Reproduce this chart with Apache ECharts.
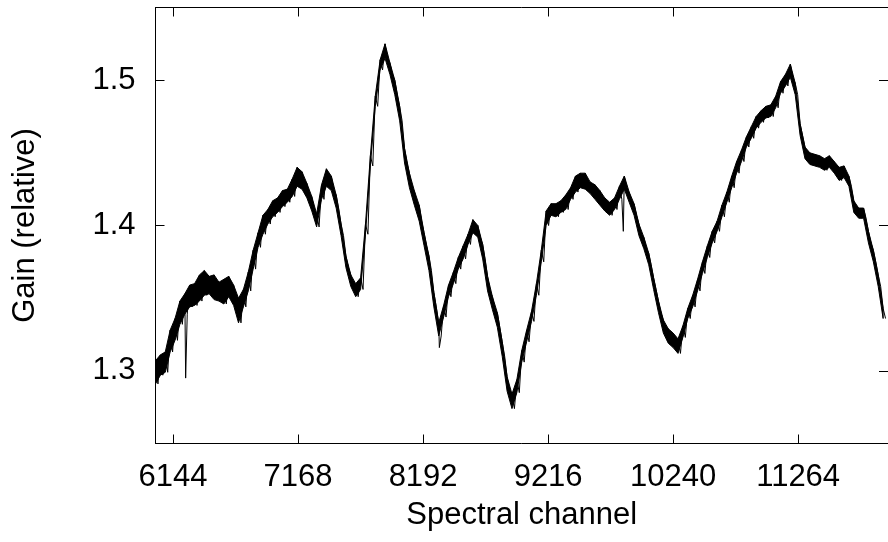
<!DOCTYPE html>
<html>
<head>
<meta charset="utf-8">
<script src="https://cdn.jsdelivr.net/npm/echarts@6/dist/echarts.min.js"></script>
<style>
html,body{margin:0;padding:0;background:#fff;}
#chart{width:888px;height:542px;}
</style>
</head>
<body>
<div id="chart"></div>
<script>
// Channel sampling grid (every 40 channels from 6000).
const channelStart = 6000;
const channelStep = 40;
// Upper edge of the noisy trace at each sampled channel
const upper = [
1.307,1.311,1.313,1.328,1.336,1.348,1.353,1.359,1.360,1.366,
1.369,1.365,1.366,1.361,1.363,1.365,1.359,1.350,1.356,1.368,
1.383,1.395,1.407,1.411,1.417,1.419,1.424,1.425,1.432,1.440,
1.437,1.429,1.420,1.408,1.428,1.439,1.434,1.421,1.401,1.379,
1.366,1.360,1.364,1.401,1.448,1.489,1.514,1.525,1.512,1.500,
1.482,1.453,1.436,1.424,1.414,1.395,1.379,1.354,1.333,1.345,
1.359,1.368,1.378,1.386,1.394,1.404,1.400,1.387,1.365,1.351,
1.340,1.320,1.296,1.284,1.294,1.314,1.328,1.341,1.360,1.383,
1.410,1.415,1.415,1.417,1.421,1.426,1.434,1.436,1.436,1.430,
1.428,1.424,1.419,1.416,1.419,1.427,1.434,1.423,1.415,1.401,
1.392,1.381,1.364,1.348,1.335,1.329,1.326,1.322,1.331,1.343,
1.352,1.363,1.375,1.386,1.396,1.403,1.414,1.423,1.434,1.444,
1.452,1.461,1.468,1.475,1.479,1.482,1.483,1.489,1.499,1.504,
1.511,1.498,1.470,1.454,1.450,1.449,1.448,1.446,1.448,1.444,
1.440,1.441,1.434,1.417,1.412,1.412,1.396,1.383,1.366,1.343
];
// Lower edge of the noisy trace at each sampled channel
const lower = [
1.291,1.297,1.299,1.313,1.321,1.332,1.339,1.344,1.345,1.348,
1.352,1.353,1.349,1.348,1.346,1.351,1.345,1.333,1.344,1.355,
1.370,1.385,1.394,1.401,1.406,1.409,1.413,1.416,1.420,1.427,
1.425,1.419,1.410,1.399,1.418,1.427,1.424,1.412,1.393,1.371,
1.358,1.351,1.356,1.394,1.441,1.482,1.507,1.515,1.504,1.490,
1.472,1.443,1.426,1.414,1.403,1.386,1.369,1.344,1.324,1.337,
1.351,1.360,1.370,1.377,1.387,1.395,1.392,1.377,1.355,1.342,
1.330,1.310,1.286,1.274,1.285,1.306,1.320,1.334,1.352,1.375,
1.400,1.407,1.406,1.409,1.411,1.418,1.423,1.426,1.425,1.422,
1.418,1.414,1.410,1.407,1.411,1.418,1.425,1.416,1.407,1.393,
1.384,1.373,1.356,1.340,1.326,1.319,1.316,1.312,1.323,1.336,
1.344,1.355,1.367,1.378,1.388,1.396,1.406,1.416,1.426,1.436,
1.444,1.454,1.460,1.467,1.471,1.474,1.475,1.481,1.491,1.496,
1.502,1.490,1.462,1.446,1.442,1.441,1.440,1.438,1.440,1.436,
1.431,1.433,1.427,1.409,1.405,1.405,1.388,1.375,1.358,1.336
];
// Isolated single-sample glitches: [channel, value]
const spikes = [[6247, 1.295], [8325, 1.316], [9832, 1.396]];

const xTicks = [6144, 7168, 8192, 9216, 10240, 11264];
const yTicks = [1.3, 1.4, 1.5];

// Build the zigzag trace: upper edge, then lower edge half a step later
const half = channelStep / 2;
const trace = [];
for (let i = 0; i < upper.length; i++) {
  const c = channelStart + i * channelStep;
  trace.push([c, upper[i]]);
  spikes.forEach(s => { if (s[0] > c && s[0] < c + half) trace.push(s); });
  trace.push([c + half, lower[i]]);
  spikes.forEach(s => { if (s[0] >= c + half && s[0] < c + channelStep) trace.push(s); });
}

const FONT = '"Liberation Sans", Arial, Helvetica, sans-serif';
const chart = echarts.init(document.getElementById('chart'), null, {renderer: 'canvas'});
const axisLineStyle = {show: true, lineStyle: {color: '#000', width: 1}};
chart.setOption({
  animation: false,
  backgroundColor: '#fff',
  grid: {left: 155.5, right: -4, top: 7.5, bottom: 98.5, containLabel: false},
  xAxis: [{
    type: 'value', position: 'bottom', min: 6000, max: 12000,
    axisLine: axisLineStyle,
    axisTick: {show: true, inside: true, length: 9, customValues: xTicks, lineStyle: {color: '#000', width: 1}},
    axisLabel: {show: true, customValues: xTicks, color: '#000', fontSize: 31, fontFamily: FONT, margin: 18,
      formatter: v => String(v)},
    splitLine: {show: false},
    name: 'Spectral channel', nameLocation: 'middle', nameGap: 56,
    nameTextStyle: {color: '#000', fontSize: 31, fontFamily: FONT}
  }, {
    type: 'value', position: 'top', min: 6000, max: 12000,
    axisLine: axisLineStyle,
    axisTick: {show: true, inside: true, length: 9, customValues: xTicks, lineStyle: {color: '#000', width: 1}},
    axisLabel: {show: false}, splitLine: {show: false}
  }],
  yAxis: [{
    type: 'value', position: 'left', min: 1.25, max: 1.55,
    axisLine: axisLineStyle,
    axisTick: {show: true, inside: true, length: 9, customValues: yTicks, lineStyle: {color: '#000', width: 1}},
    axisLabel: {show: true, customValues: yTicks, color: '#000', fontSize: 31, fontFamily: FONT, margin: 20,
      formatter: v => Number(v).toFixed(1)},
    splitLine: {show: false},
    name: 'Gain (relative)', nameLocation: 'middle', nameGap: 115, nameRotate: 90,
    nameTextStyle: {color: '#000', fontSize: 31, fontFamily: FONT}
  }, {
    type: 'value', position: 'right', min: 1.25, max: 1.55,
    axisLine: axisLineStyle,
    axisTick: {show: true, inside: true, length: 9, customValues: yTicks, lineStyle: {color: '#000', width: 1}},
    axisLabel: {show: false}, splitLine: {show: false}
  }],
  series: [{
    // solid core of the noisy trace: band between upper and lower edges
    type: 'custom', xAxisIndex: 0, yAxisIndex: 0,
    data: [[channelStart, upper[0]]],
    renderItem: (params, api) => {
      const pts = [];
      for (let i = 0; i < upper.length; i++) pts.push(api.coord([channelStart + i * channelStep, upper[i]]));
      for (let i = lower.length - 1; i >= 0; i--) pts.push(api.coord([channelStart + i * channelStep, lower[i]]));
      return {type: 'polygon', shape: {points: pts}, style: {fill: '#000', stroke: '#000', lineWidth: 1}, silent: true};
    },
    silent: true
  }, {
    type: 'line', xAxisIndex: 0, yAxisIndex: 0,
    data: trace, showSymbol: false, symbol: 'none', sampling: null,
    lineStyle: {color: '#000', width: 1}, clip: true, silent: true
  }]
});
</script>
</body>
</html>
